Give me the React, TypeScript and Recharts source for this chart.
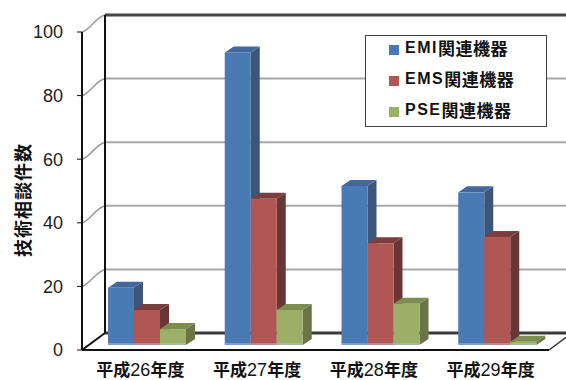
import { Bar, BarChart, CartesianGrid, XAxis, YAxis } from "recharts";

const years = ["平成26年度", "平成27年度", "平成28年度", "平成29年度"];
const seriesNames = ["EMI関連機器", "EMS関連機器", "PSE関連機器"];
const emi = [18, 92, 50, 48];
const ems = [11, 46, 32, 34];
const pse = [5, 11, 13, 1];
const yTicks = [0, 20, 40, 60, 80, 100];

const data = years.map((year, i) => ({ year, emi: emi[i], ems: ems[i], pse: pse[i] }));

// face colours: front, side, top
const palette = [
  ["#4a7ab4", "#3d5579", "#44689c"],
  ["#b05654", "#683735", "#7b3e3c"],
  ["#9bb066", "#6b7447", "#7d8d50"]
];

// depth of the walls, offset of the bar front plane, depth of a bar
const DX = 23, DY = -17;
const BX = 7, BY = -5;
const SX = 9, SY = -6;

const cjk = '"Noto Sans CJK JP", "Noto Sans", sans-serif';
const narrow = '"Liberation Sans Narrow", "Liberation Sans", sans-serif';
const latin = '"Liberation Sans", Arial, sans-serif';

function box(front: string, side: string, top: string) {
  return (props: any) => {
    const { x, y, width: w, height: h } = props;
    if (h == null || isNaN(h)) return <g />;
    const fx = x + BX, fy = y + BY;
    return (
      <g>
        <polygon
          points={`${fx + w},${fy} ${fx + w + SX},${fy + SY} ${fx + w + SX},${fy + h + SY} ${fx + w},${fy + h}`}
          fill={side}
        />
        <polygon
          points={`${fx},${fy} ${fx + SX},${fy + SY} ${fx + w + SX},${fy + SY} ${fx + w},${fy}`}
          fill={top}
        />
        <rect x={fx} y={fy} width={w} height={h} fill={front} />
        <rect x={fx} y={fy + h - 2} width={w} height={2} fill="#a9c4e4" opacity={0.5} />
      </g>
    );
  };
}

function wallLine(props: any) {
  const { x1, x2, y1, y, height } = props;
  const by = y1 + DY;
  const isTop = Math.abs(y1 - y) < 0.5;
  const isFloor = Math.abs(y1 - (y + height)) < 0.5;
  if (isFloor) {
    return (
      <g key={props.key}>
        <line x1={x1 + DX} y1={by} x2={x2 + DX} y2={by} stroke="#3a3a3a" strokeWidth={3} />
        <line x1={x1} y1={y1} x2={x1 + DX} y2={by} stroke="#111" strokeWidth={2} />
        <line x1={x2} y1={y1} x2={x2 + DX} y2={by} stroke="#333" strokeWidth={1.5} />
      </g>
    );
  }
  return (
    <g key={props.key}>
      <path
        d={`M${x1},${y1} C${x1 + 8},${y1 - 2} ${x1 + 14},${by + 2} ${x1 + DX},${by}`}
        fill="none"
        stroke="#9a9a9a"
        strokeWidth={1.5}
      />
      <line
        x1={x1 + DX}
        y1={by}
        x2={x2 + DX}
        y2={by}
        stroke={isTop ? "#454545" : "#a8a8a8"}
        strokeWidth={isTop ? 3 : 2}
      />
      {isTop && (
        <line x1={x1 + DX} y1={by} x2={x1 + DX} y2={y + height + DY} stroke="#111" strokeWidth={2} />
      )}
    </g>
  );
}

function YearTick(props: any) {
  const { x, y, payload } = props;
  const parts = String(payload.value).split(/(\d+)/).filter(Boolean);
  return (
    <text x={x} y={y + 18} textAnchor="middle" fill="#111" fontSize={17} fontWeight="bold" fontFamily={cjk}>
      {parts.map((p, i) =>
        /\d/.test(p) ? (
          <tspan key={i} fontFamily={narrow} fontWeight="normal" fontSize={18}>
            {p}
          </tspan>
        ) : (
          <tspan key={i}>{p}</tspan>
        )
      )}
    </text>
  );
}

function AxisTitle(props: any) {
  const { viewBox } = props;
  const cx = viewBox.x + 22;
  const cy = viewBox.y + viewBox.height / 2 + 9;
  return (
    <text
      x={cx}
      y={cy}
      transform={`rotate(-90 ${cx} ${cy})`}
      textAnchor="middle"
      dominantBaseline="central"
      fontSize={18}
      fontWeight="bold"
      fontFamily={cjk}
      letterSpacing={1}
      fill="#111"
    >
      技術相談件数
    </text>
  );
}

export default function App() {
  const keys = ["emi", "ems", "pse"];
  return (
    <div style={{ position: "absolute", left: 0, top: 0, width: 566, height: 380, background: "#fff" }}>
      <BarChart
        width={566}
        height={380}
        data={data}
        margin={{ top: 32, right: 17, bottom: 0, left: 0 }}
        barSize={26}
        barGap={0}
      >
        <CartesianGrid vertical={false} horizontal={wallLine} />
        <XAxis
          dataKey="year"
          height={30}
          axisLine={{ stroke: "#111", strokeWidth: 2 }}
          tickLine={false}
          tick={<YearTick />}
          interval={0}
        />
        <YAxis
          width={82}
          domain={[0, 100]}
          ticks={yTicks}
          interval={0}
          axisLine={{ stroke: "#111", strokeWidth: 2 }}
          tickLine={{ stroke: "#111" }}
          tickSize={5}
          tickMargin={14}
          tick={{ fill: "#222", fontSize: 18, fontFamily: narrow }}
          label={<AxisTitle />}
        />
        {keys.map((k, i) => (
          <Bar
            key={k}
            dataKey={k}
            name={seriesNames[i]}
            isAnimationActive={false}
            shape={box(palette[i][0], palette[i][1], palette[i][2])}
          />
        ))}
      </BarChart>
      <div
        style={{
          position: "absolute",
          left: 365,
          top: 35,
          width: 180,
          height: 90,
          border: "1px solid #404040",
          background: "#fff",
          fontFamily: cjk
        }}
      >
        {seriesNames.map((name, i) => {
          const m = name.match(/^([A-Z]+)(.*)$/);
          return (
            <div
              key={name}
              style={{
                position: "absolute",
                left: 23,
                top: -4 + i * 31,
                height: 31,
                display: "flex",
                alignItems: "center",
                whiteSpace: "nowrap",
                fontSize: 17,
                fontWeight: "bold",
                color: "#111"
              }}
            >
              <span
                style={{ width: 10, height: 10, background: palette[i][0], marginTop: 4, marginRight: 6, display: "inline-block" }}
              />
              <span style={{ fontFamily: latin, fontSize: 16, letterSpacing: 1.5 }}>{m ? m[1] : ""}</span>
              <span style={{ letterSpacing: 0.5 }}>{m ? m[2] : name}</span>
            </div>
          );
        })}
      </div>
    </div>
  );
}
